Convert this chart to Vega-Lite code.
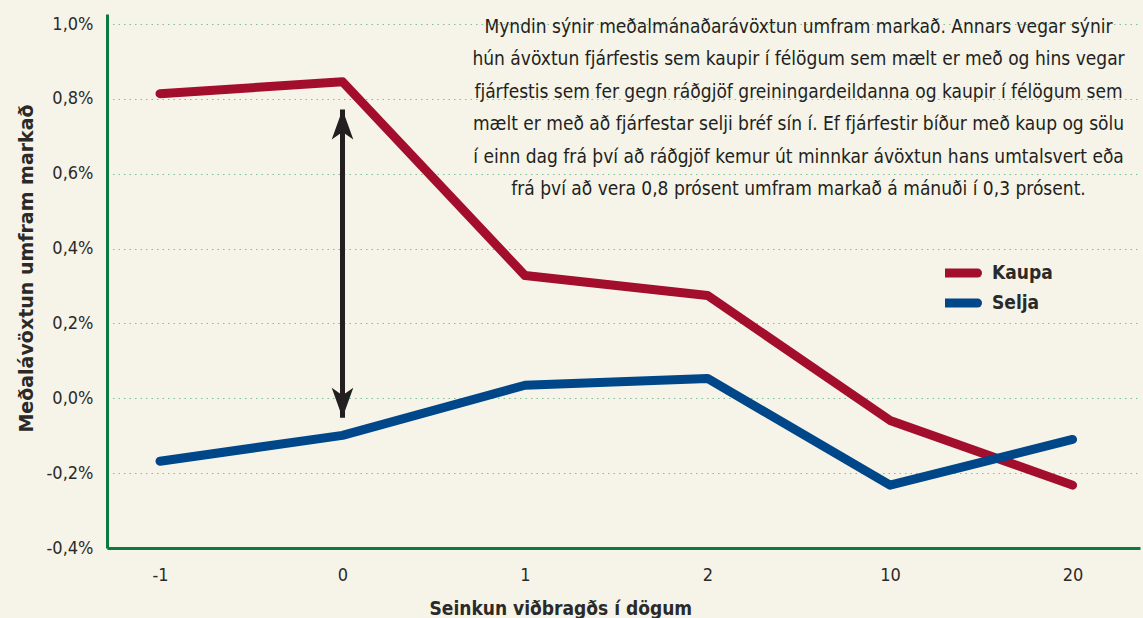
{
  "$schema": "https://vega.github.io/schema/vega-lite/v6.json",
  "autosize": {"type": "none"},
  "padding": {"left": 107, "top": 14, "right": 3, "bottom": 70},
  "width": 1033,
  "height": 534,
  "background": "#F6F4E9",
  "config": {
    "view": {"stroke": null},
    "font": "DejaVu Sans Condensed, Liberation Sans Narrow, sans-serif"
  },
  "datasets": {
    "series": [
      {"dag": "-1", "hopur": "Kaupa", "avoxtun": 0.00814},
      {"dag": "0", "hopur": "Kaupa", "avoxtun": 0.00846},
      {"dag": "1", "hopur": "Kaupa", "avoxtun": 0.00328},
      {"dag": "2", "hopur": "Kaupa", "avoxtun": 0.00275},
      {"dag": "10", "hopur": "Kaupa", "avoxtun": -0.00059},
      {"dag": "20", "hopur": "Kaupa", "avoxtun": -0.00232},
      {"dag": "-1", "hopur": "Selja", "avoxtun": -0.00168},
      {"dag": "0", "hopur": "Selja", "avoxtun": -0.00099},
      {"dag": "1", "hopur": "Selja", "avoxtun": 0.00035},
      {"dag": "2", "hopur": "Selja", "avoxtun": 0.00053},
      {"dag": "10", "hopur": "Selja", "avoxtun": -0.00232},
      {"dag": "20", "hopur": "Selja", "avoxtun": -0.00110}
    ],
    "arrow": [
      {"dag": "0", "top": 0.00772, "bottom": -0.00052}
    ],
    "note": [
      {"dag": "2", "y": 0.01, "text": ["Myndin sýnir meðalmánaðarávöxtun umfram markað. Annars vegar sýnir", "hún ávöxtun fjárfestis sem kaupir í félögum sem mælt er með og hins vegar", "fjárfestis sem fer gegn ráðgjöf greiningardeildanna og kaupir í félögum sem", "mælt er með að fjárfestar selji bréf sín í. Ef fjárfestir bíður með kaup og sölu", "í einn dag frá því að ráðgjöf kemur út minnkar ávöxtun hans umtalsvert eða", "frá því að vera 0,8 prósent umfram markað á mánuði í 0,3 prósent."]}
    ]
  },
  "encoding": {
    "x": {
      "field": "dag",
      "type": "ordinal",
      "sort": ["-1", "0", "1", "2", "10", "20"],
      "scale": {"type": "point", "padding": 0.33, "align": 0.44, "domain": ["-1", "0", "1", "2", "10", "20"]},
      "axis": {
        "title": "Seinkun viðbragðs í dögum",
        "titleFontSize": 19,
        "titleFontWeight": "bold",
        "titleColor": "#2B2A29",
        "titleAnchor": "start",
        "titleX": 322,
        "titleY": 51,
        "labelAngle": 0,
        "labelFontSize": 18,
        "labelColor": "#2B2A29",
        "labelPadding": 18,
        "ticks": false,
        "domainColor": "#0B7A3E",
        "domainWidth": 3,
        "grid": false
      }
    }
  },
  "layer": [
    {
      "data": {"name": "series"},
      "mark": {"type": "line", "strokeWidth": 9, "strokeCap": "round", "strokeJoin": "round"},
      "encoding": {
        "y": {
          "field": "avoxtun",
          "type": "quantitative",
          "scale": {"domain": [-0.004, 0.01027], "nice": false, "zero": false},
          "axis": {
            "title": "Meðalávöxtun umfram markað",
            "titleFont": "DejaVu Sans, sans-serif",
            "titleFontSize": 19,
            "titleFontWeight": "bold",
            "titleColor": "#2B2A29",
            "titleBaseline": "middle",
            "titleX": -81,
            "titleY": 254,
            "values": [-0.004, -0.002, 0, 0.002, 0.004, 0.006, 0.008, 0.01],
            "labelExpr": "replace(replace(format(datum.value, '.1%'), '.', ','), '−', '-')",
            "labelFontSize": 18,
            "labelColor": "#2B2A29",
            "labelPadding": 14,
            "ticks": false,
            "domainColor": "#0B7A3E",
            "domainWidth": 3,
            "gridColor": "#7DBF98",
            "gridDash": [1.5, 4],
            "gridWidth": 1.2
          }
        },
        "color": {
          "field": "hopur",
          "type": "nominal",
          "scale": {"domain": ["Kaupa", "Selja"], "range": ["#A20E2C", "#00478A"]},
          "legend": {
            "title": null,
            "orient": "none",
            "legendX": 838,
            "legendY": 249,
            "padding": 0,
            "symbolType": "M-1.8,0 L1.8,0",
            "symbolSize": 400,
            "symbolStrokeWidth": 9,
            "symbolFillColor": "transparent",
            "clipHeight": 20,
            "rowPadding": 10,
            "labelFontSize": 19,
            "labelFontWeight": "bold",
            "labelColor": "#2B2A29",
            "labelOffset": 18,
            "encode": {"symbols": {"update": {"strokeCap": {"value": "round"}}}}
          }
        },
        "order": {"field": "hopur"}
      }
    },
    {
      "data": {"name": "arrow"},
      "mark": {"type": "rule", "strokeWidth": 5, "color": "#231F20"},
      "encoding": {
        "y": {"field": "top", "type": "quantitative"},
        "y2": {"field": "bottom"}
      }
    },
    {
      "data": {"name": "arrow"},
      "mark": {"type": "point", "filled": true, "color": "#231F20", "opacity": 1, "size": 900, "shape": "M0,0 L0.72,2 L0,1.5 L-0.72,2 Z"},
      "encoding": {
        "y": {"field": "top", "type": "quantitative"}
      }
    },
    {
      "data": {"name": "arrow"},
      "mark": {"type": "point", "filled": true, "color": "#231F20", "opacity": 1, "size": 900, "shape": "M0,0 L0.72,-2 L0,-1.5 L-0.72,-2 Z"},
      "encoding": {
        "y": {"field": "bottom", "type": "quantitative"}
      }
    },
    {
      "data": {"name": "note"},
      "mark": {"type": "text", "align": "center", "baseline": "middle", "dx": 91, "dy": 3, "fontSize": 19, "lineHeight": 32.4, "color": "#231F20"},
      "encoding": {
        "y": {"field": "y", "type": "quantitative"},
        "text": {"field": "text"}
      }
    }
  ]
}
